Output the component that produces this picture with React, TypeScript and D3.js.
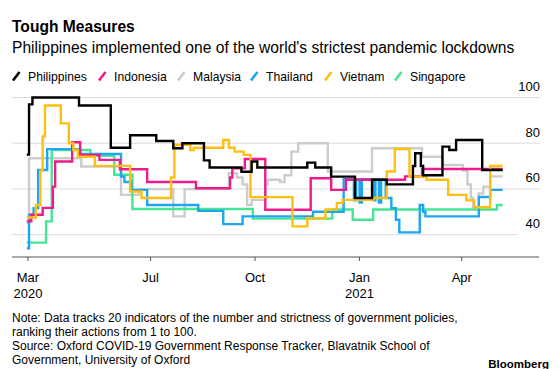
import React from "react";
import * as d3 from "d3";

type Pt = [string, number];

const categories = ["Philippines", "Indonesia", "Malaysia", "Thailand", "Vietnam", "Singapore"];
const colors = ["#000000", "#ec1c8c", "#cccccc", "#1ea7f0", "#ffbf0f", "#45e596"];

const philippines: Pt[] = [
  ["2020-03-14", 75], ["2020-03-16", 97], ["2020-03-19", 100], ["2020-04-29", 96.5],
  ["2020-05-27", 78], ["2020-06-13", 83.5], ["2020-07-06", 81], ["2020-07-21", 77.8],
  ["2020-07-29", 80], ["2020-08-17", 72.5], ["2020-08-22", 69.4], ["2020-09-19", 67.5],
  ["2020-09-28", 72], ["2020-10-03", 69.4], ["2020-11-16", 71.5], ["2020-11-23", 69.4],
  ["2020-12-07", 65.4], ["2020-12-28", 56], ["2021-01-12", 64], ["2021-01-25", 62],
  ["2021-02-17", 70], ["2021-02-19", 75.6], ["2021-02-24", 70], ["2021-02-26", 66],
  ["2021-03-15", 78.5], ["2021-03-21", 77], ["2021-03-27", 81.4], ["2021-04-19", 68.3],
  ["2021-05-07", 68.3],
];

const indonesia: Pt[] = [
  ["2020-03-14", 45.8], ["2020-03-18", 48.7], ["2020-03-28", 51.7], ["2020-04-06", 61],
  ["2020-04-08", 72], ["2020-04-23", 80.4], ["2020-04-30", 74.9], ["2020-05-17", 72.7],
  ["2020-06-04", 68.6], ["2020-06-28", 63], ["2020-08-10", 60.3], ["2020-09-09", 65],
  ["2020-09-11", 69], ["2020-09-22", 73.1], ["2020-10-10", 50.9], ["2020-11-19", 64.7],
  ["2020-12-07", 59.6], ["2020-12-20", 64], ["2021-02-10", 65.5], ["2021-02-25", 68.7],
  ["2021-05-07", 68.7],
];

const malaysia: Pt[] = [
  ["2020-03-14", 45], ["2020-03-16", 73.4], ["2020-05-01", 69.8], ["2020-06-05", 57.4],
  ["2020-06-21", 59.9], ["2020-07-21", 48], ["2020-07-31", 59.9], ["2020-09-08", 66.9],
  ["2020-09-15", 65], ["2020-09-20", 62], ["2020-09-24", 53], ["2020-09-28", 55.2],
  ["2020-10-10", 62], ["2020-10-12", 64], ["2020-10-23", 63], ["2020-10-27", 66],
  ["2020-11-02", 76.3], ["2020-11-08", 80], ["2020-12-04", 67.6], ["2021-01-12", 77.8],
  ["2021-02-25", 74.1], ["2021-03-15", 70.5], ["2021-04-02", 68], ["2021-04-06", 62],
  ["2021-04-09", 56], ["2021-04-11", 52], ["2021-04-16", 58], ["2021-04-20", 61],
  ["2021-04-26", 65.5], ["2021-05-07", 65.5],
];

const thailand: Pt[] = [
  ["2020-03-14", 34], ["2020-03-16", 48.7], ["2020-03-20", 51.6], ["2020-03-24", 68.3],
  ["2020-04-01", 77.4], ["2020-04-30", 75.3], ["2020-06-05", 65.4], ["2020-06-08", 63],
  ["2020-06-14", 59.6], ["2020-06-28", 53], ["2020-08-12", 50.4], ["2020-09-03", 44.6],
  ["2020-09-20", 48], ["2020-11-21", 50], ["2020-12-18", 64.3], ["2020-12-27", 55],
  ["2020-12-29", 64.3], ["2021-01-01", 54], ["2021-01-03", 64.3], ["2021-01-13", 55],
  ["2021-01-15", 64.3], ["2021-01-18", 54], ["2021-01-20", 64.3], ["2021-01-24", 56],
  ["2021-01-29", 51.6], ["2021-02-02", 46.5], ["2021-02-05", 41], ["2021-02-23", 53],
  ["2021-02-26", 50], ["2021-02-28", 48], ["2021-04-16", 56.5], ["2021-04-26", 59.6],
  ["2021-05-07", 59.6],
];

const vietnam: Pt[] = [
  ["2020-03-14", 47.5], ["2020-03-22", 53], ["2020-03-26", 68], ["2020-03-28", 83],
  ["2020-03-30", 96.5], ["2020-04-13", 88.7], ["2020-04-20", 80], ["2020-04-24", 77],
  ["2020-04-28", 74.1], ["2020-05-13", 70.1], ["2020-06-13", 58.9], ["2020-06-23", 56],
  ["2020-07-19", 65], ["2020-07-22", 79.3], ["2020-08-05", 77], ["2020-08-08", 78],
  ["2020-09-03", 81.4], ["2020-09-08", 78], ["2020-09-13", 76.3], ["2020-09-21", 74.9],
  ["2020-09-27", 56.4], ["2020-11-03", 43.6], ["2020-11-16", 47.2], ["2020-12-02", 51],
  ["2020-12-12", 53.8], ["2020-12-17", 55.2], ["2021-01-13", 56], ["2021-01-25", 67.6],
  ["2021-02-01", 77.5], ["2021-02-14", 65.4], ["2021-03-01", 64], ["2021-03-20", 57.4],
  ["2021-04-05", 55], ["2021-04-12", 52], ["2021-04-26", 70], ["2021-05-07", 70],
];

const singapore: Pt[] = [
  ["2020-03-14", 36.5], ["2020-03-31", 45.8], ["2020-04-05", 77], ["2020-05-09", 74.5],
  ["2020-05-30", 66.2], ["2020-06-15", 51.2], ["2020-09-29", 47], ["2020-12-08", 51],
  ["2020-12-26", 46.5], ["2021-01-13", 51], ["2021-05-02", 53], ["2021-05-07", 53],
];

const seriesValues: Pt[][] = [philippines, indonesia, malaysia, thailand, vietnam, singapore];

const xTickDates = ["2020-03-15", "2020-07-01", "2020-10-01", "2021-01-01", "2021-04-01"];
const xTickLabels = ["Mar", "Jul", "Oct", "Jan", "Apr"];
const xTickYears = ["2020", "", "", "2021", ""];
const yTicks = [40, 60, 80, 100];

const title = "Tough Measures";
const subtitle = "Philippines implemented one of the world's strictest pandemic lockdowns";
const notes = [
  "Note: Data tracks 20 indicators of the number and strictness of government policies,",
  "ranking their actions from 1 to 100.",
  "Source: Oxford COVID-19 Government Response Tracker, Blavatnik School of",
  "Government, University of Oxford",
];

const legendX = [13, 99, 178, 251, 325, 395];
const FONT = "'Liberation Sans', Arial, Helvetica, sans-serif";

export default function App() {
  const parse = d3.utcParse("%Y-%m-%d");
  const x = d3
    .scaleUtc()
    .domain([parse("2020-03-01")!, parse("2021-06-08")!])
    .range([12, 539]);
  const y = d3.scaleLinear().domain([30, 100]).range([257.5, 97.5]);

  const line = d3
    .line<Pt>()
    .x((d) => x(parse(d[0])!))
    .y((d) => y(d[1]))
    .curve(d3.curveStepAfter);

  const drawOrder = [2, 5, 3, 1, 4, 0];

  return (
    <svg
      width={560}
      height={369}
      style={{ position: "absolute", left: 0, top: 0, background: "#fff" }}
      fontFamily={FONT}
    >
      <rect width={560} height={369} fill="#fff" />
      <text x={12} y={32} fontSize={15.6} fontWeight="bold" fill="#000">
        {title}
      </text>
      <text x={12} y={52.5} fontSize={15.6} fill="#000">
        {subtitle}
      </text>

      {categories.map((c, i) => (
        <g key={c}>
          <line
            x1={legendX[i]}
            y1={80.5}
            x2={legendX[i] + 6.5}
            y2={72}
            stroke={colors[i]}
            strokeWidth={2.6}
          />
          <text x={legendX[i] + 15} y={80.5} fontSize={12.2} fill="#000">
            {c}
          </text>
        </g>
      ))}

      {yTicks.map((t) => (
        <g key={t}>
          <line
            x1={12}
            x2={t === 40 ? 518 : 540}
            y1={y(t)}
            y2={y(t)}
            stroke="#dcdcdc"
            strokeWidth={1}
          />
          <text x={540} y={y(t) - 6.5} fontSize={13} textAnchor="end" fill="#000">
            {t}
          </text>
        </g>
      ))}

      {drawOrder.map((i) => (
        <path
          key={categories[i]}
          d={line(seriesValues[i]) || ""}
          fill="none"
          stroke={colors[i]}
          strokeWidth={2.4}
          strokeLinejoin="miter"
        />
      ))}

      <line x1={12} x2={539} y1={257} y2={257} stroke="#555" strokeWidth={1} />
      {xTickDates.map((d, i) => {
        const xx = x(parse(d)!);
        return (
          <g key={d}>
            <line x1={xx} x2={xx} y1={257} y2={261} stroke="#555" strokeWidth={1} />
            <text x={xx} y={282} fontSize={13} textAnchor="middle" fill="#000">
              {xTickLabels[i]}
            </text>
            {xTickYears[i] && (
              <text x={xx} y={298} fontSize={13} textAnchor="middle" fill="#000">
                {xTickYears[i]}
              </text>
            )}
          </g>
        );
      })}

      {notes.map((n, i) => (
        <text key={i} x={12} y={322 + i * 14} fontSize={12} fill="#000">
          {n}
        </text>
      ))}
      <text x={549} y={368} fontSize={11.5} fontWeight="bold" textAnchor="end" fill="#000">
        Bloomberg
      </text>
    </svg>
  );
}
